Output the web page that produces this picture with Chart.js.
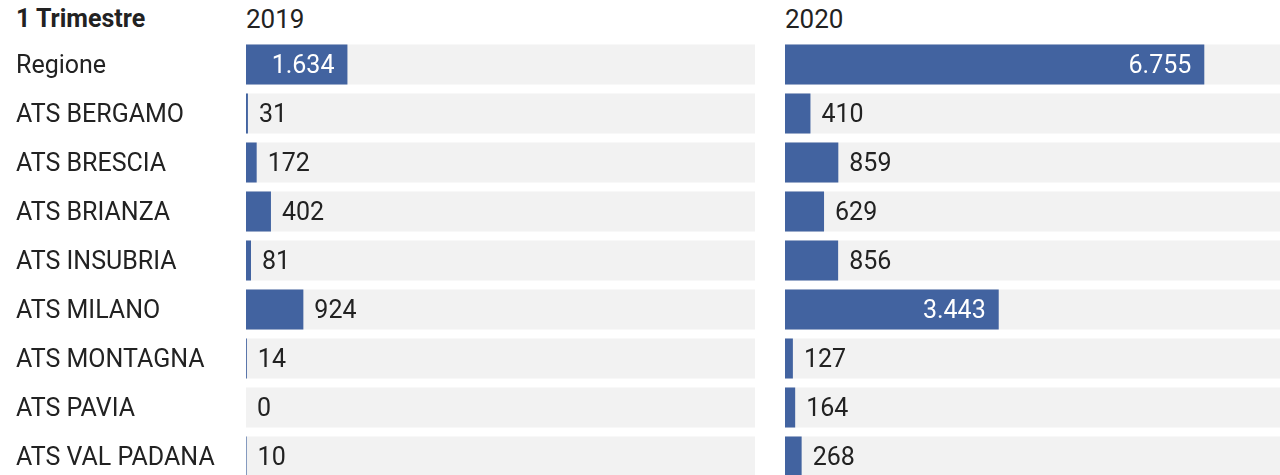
<!DOCTYPE html>
<html>
<head>
<meta charset="utf-8">
<script src="https://cdn.jsdelivr.net/npm/chart.js@4"></script>
<style>
  html, body { margin: 0; padding: 0; background: #fff; overflow: hidden; width: 1280px; height: 475px; }
  body { position: relative; font-family: Roboto, sans-serif; color: #222; }
  .hdr { position: absolute; top: 5px; font-size: 25px; line-height: 28px; }
  .box { position: absolute; top: 0; }
</style>
</head>
<body>
<div class="hdr" style="left:16px;font-weight:bold">1 Trimestre</div>
<div class="hdr" style="left:246px;font-size:26px">2019</div>
<div class="hdr" style="left:785px;font-size:26px">2020</div>
<div class="box" style="left:0"><canvas id="c2019" width="770" height="481"></canvas></div>
<div class="box" style="left:770px"><canvas id="c2020" width="524" height="481"></canvas></div>
<script>
// dati 1° trimestre
const categories = ['Regione', 'ATS BERGAMO', 'ATS BRESCIA', 'ATS BRIANZA', 'ATS INSUBRIA',
  'ATS MILANO', 'ATS MONTAGNA', 'ATS PAVIA', 'ATS VAL PADANA'];
const values2019 = [1634, 31, 172, 402, 81, 924, 14, 0, 10];
const values2020 = [6755, 410, 859, 629, 856, 3443, 127, 164, 268];
const axisMax = 8200;

const barColor = '#4263a0';
const trackColor = '#f2f2f2';
const font = "Roboto, sans-serif";
const fmt = v => v.toLocaleString('it-IT');

// sfondo grigio per ogni riga
const tracks = {
  id: 'tracks',
  beforeDatasetsDraw(chart) {
    const { ctx, chartArea, scales: { y } } = chart;
    ctx.save();
    ctx.fillStyle = trackColor;
    categories.forEach((_, i) => {
      const yc = y.getPixelForValue(i);
      ctx.fillRect(chartArea.left, yc - 20, chartArea.right - chartArea.left, 40);
    });
    ctx.restore();
  }
};

// etichette valore: dentro (bianco) se ci stanno, altrimenti fuori
const valueLabels = {
  id: 'valueLabels',
  afterDatasetsDraw(chart) {
    const { ctx } = chart;
    const meta = chart.getDatasetMeta(0);
    const data = chart.data.datasets[0].data;
    ctx.save();
    ctx.font = '25px ' + font;
    ctx.textBaseline = 'middle';
    meta.data.forEach((bar, i) => {
      const txt = fmt(data[i]);
      const w = ctx.measureText(txt).width;
      const len = bar.x - bar.base;
      if (len > w + 24) {
        ctx.fillStyle = '#ffffff';
        ctx.textAlign = 'right';
        ctx.fillText(txt, bar.x - 13, bar.y + 2);
      } else {
        ctx.fillStyle = '#222222';
        ctx.textAlign = 'left';
        ctx.fillText(txt, bar.x + 11, bar.y + 2);
      }
    });
    ctx.restore();
  }
};

function makeChart(id, values, showLabels, padding) {
  return new Chart(document.getElementById(id), {
    type: 'bar',
    data: {
      labels: categories,
      datasets: [{
        data: values,
        backgroundColor: barColor,
        borderWidth: 0,
        inflateAmount: 0,
        barThickness: 40
      }]
    },
    options: {
      indexAxis: 'y',
      responsive: false,
      animation: false,
      layout: { padding },
      plugins: { legend: { display: false }, tooltip: { enabled: false } },
      scales: {
        x: { display: false, min: 0, max: axisMax },
        y: {
          display: showLabels,
          grid: { display: false },
          border: { display: false },
          afterFit: s => {
            if (showLabels) s.width = 230;
            s.paddingTop = 0;
            s.paddingBottom = 0;
          },
          ticks: {
            crossAlign: 'far',
            color: '#222',
            padding: 0,
            labelOffset: 2,
            font: { family: font, size: 25 }
          }
        }
      }
    },
    plugins: [tracks, valueLabels]
  });
}

makeChart('c2019', values2019, true, { top: 40, left: 16, right: 15, bottom: 0 });
makeChart('c2020', values2020, false, { top: 40, left: 15, right: 0, bottom: 0 });
</script>
</body>
</html>
